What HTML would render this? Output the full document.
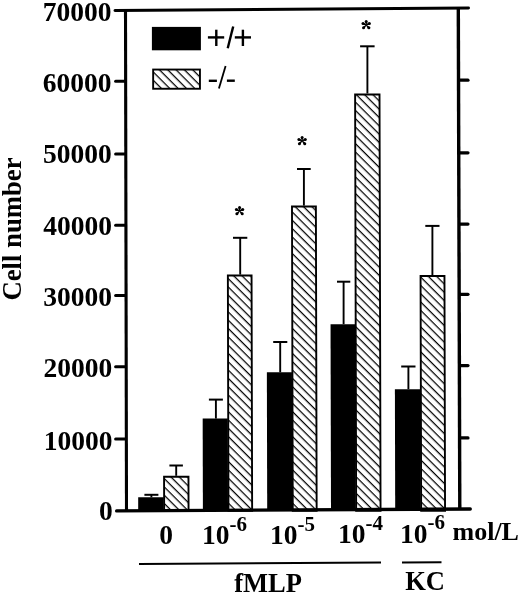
<!DOCTYPE html>
<html><head><meta charset="utf-8"><style>
html,body{margin:0;padding:0;background:#fff;}
body{width:520px;height:594px;overflow:hidden;}
svg{will-change:transform;position:absolute;left:0;top:0;display:block;}
.s{font-family:"Liberation Serif",serif;font-weight:bold;fill:#000;}
</style></head><body>
<svg width="520" height="594" viewBox="0 0 520 594">
<defs>
<pattern id="h0" patternUnits="userSpaceOnUse" width="5.891" height="5.891" patternTransform="rotate(45) translate(0,-2.266)"><rect x="0" y="0" width="5.891" height="5.891" fill="#fff"/><rect x="0" y="0" width="5.891" height="1.25" fill="#000"/></pattern><pattern id="h1" patternUnits="userSpaceOnUse" width="5.891" height="5.891" patternTransform="rotate(45) translate(0,-0.745)"><rect x="0" y="0" width="5.891" height="5.891" fill="#fff"/><rect x="0" y="0" width="5.891" height="1.25" fill="#000"/></pattern><pattern id="h2" patternUnits="userSpaceOnUse" width="5.891" height="5.891" patternTransform="rotate(45) translate(0,-4.880)"><rect x="0" y="0" width="5.891" height="5.891" fill="#fff"/><rect x="0" y="0" width="5.891" height="1.25" fill="#000"/></pattern><pattern id="h3" patternUnits="userSpaceOnUse" width="5.891" height="5.891" patternTransform="rotate(45) translate(0,2.149)"><rect x="0" y="0" width="5.891" height="5.891" fill="#fff"/><rect x="0" y="0" width="5.891" height="1.25" fill="#000"/></pattern><pattern id="h4" patternUnits="userSpaceOnUse" width="5.891" height="5.891" patternTransform="rotate(45) translate(0,-2.439)"><rect x="0" y="0" width="5.891" height="5.891" fill="#fff"/><rect x="0" y="0" width="5.891" height="1.25" fill="#000"/></pattern><pattern id="hL" patternUnits="userSpaceOnUse" width="5.891" height="5.891" patternTransform="rotate(45) translate(0,0.799)"><rect x="0" y="0" width="5.891" height="5.891" fill="#fff"/><rect x="0" y="0" width="5.891" height="1.25" fill="#000"/></pattern>

</defs>
<rect x="0" y="0" width="520" height="594" fill="#fff"/>

<line x1="151.4" y1="497.3" x2="151.4" y2="494.8" stroke="#000" stroke-width="1.9"/>
<line x1="144.4" y1="494.8" x2="158.4" y2="494.8" stroke="#000" stroke-width="2.0"/>
<line x1="176.2" y1="475.8" x2="176.2" y2="465.5" stroke="#000" stroke-width="1.9"/>
<line x1="169.4" y1="465.5" x2="182.9" y2="465.5" stroke="#000" stroke-width="2.0"/>
<line x1="215.9" y1="418.6" x2="215.9" y2="399.6" stroke="#000" stroke-width="1.9"/>
<line x1="208.9" y1="399.6" x2="222.9" y2="399.6" stroke="#000" stroke-width="2.0"/>
<line x1="240.2" y1="274.6" x2="240.2" y2="237.8" stroke="#000" stroke-width="1.9"/>
<line x1="233.0" y1="237.8" x2="247.3" y2="237.8" stroke="#000" stroke-width="2.0"/>
<line x1="280.2" y1="372.3" x2="280.2" y2="342.0" stroke="#000" stroke-width="1.9"/>
<line x1="273.2" y1="342.0" x2="287.3" y2="342.0" stroke="#000" stroke-width="2.0"/>
<line x1="303.9" y1="205.6" x2="303.9" y2="169.0" stroke="#000" stroke-width="1.9"/>
<line x1="297.0" y1="169.0" x2="310.7" y2="169.0" stroke="#000" stroke-width="2.0"/>
<line x1="343.6" y1="324.2" x2="343.6" y2="281.7" stroke="#000" stroke-width="1.9"/>
<line x1="337.0" y1="281.7" x2="350.3" y2="281.7" stroke="#000" stroke-width="2.0"/>
<line x1="367.4" y1="93.5" x2="367.4" y2="46.3" stroke="#000" stroke-width="1.9"/>
<line x1="360.1" y1="46.3" x2="374.6" y2="46.3" stroke="#000" stroke-width="2.0"/>
<line x1="408.4" y1="389.2" x2="408.4" y2="366.5" stroke="#000" stroke-width="1.9"/>
<line x1="401.2" y1="366.5" x2="415.5" y2="366.5" stroke="#000" stroke-width="2.0"/>
<line x1="432.4" y1="275.1" x2="432.4" y2="225.9" stroke="#000" stroke-width="1.9"/>
<line x1="425.3" y1="225.9" x2="439.5" y2="225.9" stroke="#000" stroke-width="2.0"/>
<g transform="matrix(1,0,0.0025,1,-1.2750,0)"><rect x="138.2" y="497.3" width="25.5" height="13.6" fill="#000"/><rect x="164.15" y="476.75" width="24.40" height="34.15" fill="url(#h0)" stroke="#000" stroke-width="1.9"/><rect x="202.9" y="418.6" width="25.1" height="92.3" fill="#000"/><rect x="228.45" y="275.55" width="23.70" height="235.35" fill="url(#h1)" stroke="#000" stroke-width="1.9"/><rect x="267.2" y="372.3" width="25.1" height="138.6" fill="#000"/><rect x="292.75" y="206.55" width="23.90" height="304.35" fill="url(#h2)" stroke="#000" stroke-width="1.9"/><rect x="331.0" y="324.2" width="24.7" height="186.7" fill="#000"/><rect x="356.15" y="94.45" width="24.40" height="416.45" fill="url(#h3)" stroke="#000" stroke-width="1.9"/><rect x="395.2" y="389.2" width="25.5" height="121.7" fill="#000"/><rect x="421.15" y="276.05" width="23.90" height="234.85" fill="url(#h4)" stroke="#000" stroke-width="1.9"/></g>
<polyline points="115,10.4 468.5,8.1" stroke="#000" stroke-width="3" fill="none" stroke-linecap="round"/>
<polyline points="116.6,510.9 470.3,509.0" stroke="#000" stroke-width="3.3" fill="none" stroke-linecap="round"/>
<polyline points="125.5,9 126.5,511" stroke="#000" stroke-width="3.1" fill="none"/>
<polyline points="458.3,7 459.8,509" stroke="#000" stroke-width="3.4" fill="none"/>
<line x1="115.6" y1="81.3" x2="125" y2="81.3" stroke="#000" stroke-width="3" stroke-linecap="round"/>
<line x1="460" y1="80.2" x2="468" y2="80.2" stroke="#000" stroke-width="3.2" stroke-linecap="round"/>
<line x1="115.6" y1="153.9" x2="125" y2="153.9" stroke="#000" stroke-width="3" stroke-linecap="round"/>
<line x1="460" y1="152.8" x2="468" y2="152.8" stroke="#000" stroke-width="3.2" stroke-linecap="round"/>
<line x1="115.6" y1="225.2" x2="125" y2="225.2" stroke="#000" stroke-width="3" stroke-linecap="round"/>
<line x1="460" y1="224.1" x2="468" y2="224.1" stroke="#000" stroke-width="3.2" stroke-linecap="round"/>
<line x1="115.6" y1="295.4" x2="125" y2="295.4" stroke="#000" stroke-width="3" stroke-linecap="round"/>
<line x1="460" y1="294.3" x2="468" y2="294.3" stroke="#000" stroke-width="3.2" stroke-linecap="round"/>
<line x1="115.6" y1="366.7" x2="125" y2="366.7" stroke="#000" stroke-width="3" stroke-linecap="round"/>
<line x1="460" y1="365.6" x2="468" y2="365.6" stroke="#000" stroke-width="3.2" stroke-linecap="round"/>
<line x1="115.6" y1="439.0" x2="125" y2="439.0" stroke="#000" stroke-width="3" stroke-linecap="round"/>
<line x1="460" y1="437.9" x2="468" y2="437.9" stroke="#000" stroke-width="3.2" stroke-linecap="round"/>
<text class="s" x="111.40" y="20.7" font-size="27.5" text-anchor="end">70000</text>
<text class="s" x="111.58" y="91.8" font-size="27.5" text-anchor="end">60000</text>
<text class="s" x="111.76" y="163.0" font-size="27.5" text-anchor="end">50000</text>
<text class="s" x="111.94" y="234.6" font-size="27.5" text-anchor="end">40000</text>
<text class="s" x="112.11" y="305.7" font-size="27.5" text-anchor="end">30000</text>
<text class="s" x="112.29" y="376.8" font-size="27.5" text-anchor="end">20000</text>
<text class="s" x="112.47" y="449.7" font-size="27.5" text-anchor="end">10000</text>
<text class="s" x="112.65" y="520.3" font-size="27.5" text-anchor="end">0</text>
<text class="s" font-size="26.7" transform="translate(20.5,229.0) scale(1.04,1) rotate(-90)" text-anchor="middle">Cell number</text>
<text class="s" x="166.15" y="544.0" font-size="27.5" text-anchor="middle">0</text>
<text class="s" x="202.0" y="543.8" font-size="27.5">10</text>
<text class="s" x="229.5" y="531.2" font-size="21">-6</text>
<text class="s" x="270.0" y="543.6" font-size="27.5">10</text>
<text class="s" x="297.5" y="530.7" font-size="21">-5</text>
<text class="s" x="338.1" y="543.3" font-size="27.5">10</text>
<text class="s" x="365.6" y="529.8" font-size="21">-4</text>
<text class="s" x="400.0" y="542.5" font-size="27.5">10</text>
<text class="s" x="427.5" y="529.3" font-size="21">-6</text>
<text class="s" x="452.5" y="539.8" font-size="26">mol/L</text>
<line x1="139" y1="563.9" x2="381" y2="562.4" stroke="#000" stroke-width="2"/>
<line x1="402" y1="562.5" x2="441.5" y2="562.3" stroke="#000" stroke-width="2"/>
<text class="s" x="268" y="592" font-size="26.5" text-anchor="middle">fMLP</text>
<text class="s" x="425" y="590" font-size="26.5" text-anchor="middle">KC</text>
<g transform="translate(239.55,210.9)"><path d="M-0.40,-0.00 L-1.12,-3.10 L1.13,-3.10 L0.40,0.00 Z"/><circle cx="0.00" cy="-3.40" r="1.5"/><path d="M-0.16,-0.37 L2.47,-2.33 L3.38,-0.27 L0.16,0.37 Z"/><circle cx="3.20" cy="-1.42" r="1.5"/><path d="M0.30,-0.27 L3.31,2.00 L1.64,3.50 L-0.30,0.27 Z"/><circle cx="2.68" cy="2.97" r="1.5"/><path d="M0.30,0.27 L-1.64,3.50 L-3.31,2.00 L-0.30,-0.27 Z"/><circle cx="-2.68" cy="2.97" r="1.5"/><path d="M-0.16,0.37 L-3.38,-0.27 L-2.47,-2.33 L0.16,-0.37 Z"/><circle cx="-3.20" cy="-1.42" r="1.5"/></g>
<g transform="translate(302.1,140.8)"><path d="M-0.40,-0.00 L-1.12,-3.10 L1.13,-3.10 L0.40,0.00 Z"/><circle cx="0.00" cy="-3.40" r="1.5"/><path d="M-0.16,-0.37 L2.47,-2.33 L3.38,-0.27 L0.16,0.37 Z"/><circle cx="3.20" cy="-1.42" r="1.5"/><path d="M0.30,-0.27 L3.31,2.00 L1.64,3.50 L-0.30,0.27 Z"/><circle cx="2.68" cy="2.97" r="1.5"/><path d="M0.30,0.27 L-1.64,3.50 L-3.31,2.00 L-0.30,-0.27 Z"/><circle cx="-2.68" cy="2.97" r="1.5"/><path d="M-0.16,0.37 L-3.38,-0.27 L-2.47,-2.33 L0.16,-0.37 Z"/><circle cx="-3.20" cy="-1.42" r="1.5"/></g>
<g transform="translate(366.2,24.9)"><path d="M-0.40,-0.00 L-1.12,-3.10 L1.13,-3.10 L0.40,0.00 Z"/><circle cx="0.00" cy="-3.40" r="1.5"/><path d="M-0.16,-0.37 L2.47,-2.33 L3.38,-0.27 L0.16,0.37 Z"/><circle cx="3.20" cy="-1.42" r="1.5"/><path d="M0.30,-0.27 L3.31,2.00 L1.64,3.50 L-0.30,0.27 Z"/><circle cx="2.68" cy="2.97" r="1.5"/><path d="M0.30,0.27 L-1.64,3.50 L-3.31,2.00 L-0.30,-0.27 Z"/><circle cx="-2.68" cy="2.97" r="1.5"/><path d="M-0.16,0.37 L-3.38,-0.27 L-2.47,-2.33 L0.16,-0.37 Z"/><circle cx="-3.20" cy="-1.42" r="1.5"/></g>
<rect x="151.9" y="26.9" width="49" height="23.4" fill="#000"/>
<rect x="153.15" y="69.55" width="46.8" height="19.2" fill="url(#hL)" stroke="#000" stroke-width="1.9"/>
<g stroke="#000" stroke-width="2.4" fill="none">
<line x1="207.9" y1="37.4" x2="224.2" y2="37.4"/><line x1="216.3" y1="29.7" x2="216.3" y2="46"/>
<line x1="227.7" y1="48.2" x2="233.2" y2="26.5"/>
<line x1="234.8" y1="37.4" x2="251" y2="37.4"/><line x1="242.9" y1="29.7" x2="242.9" y2="46"/>
<line x1="208.8" y1="80.8" x2="216.9" y2="80.8"/><line x1="226.9" y1="80.7" x2="234.8" y2="80.7"/>
</g>
<line x1="218.9" y1="88.6" x2="225.6" y2="66" stroke="#000" stroke-width="1.8"/>
</svg></body></html>
